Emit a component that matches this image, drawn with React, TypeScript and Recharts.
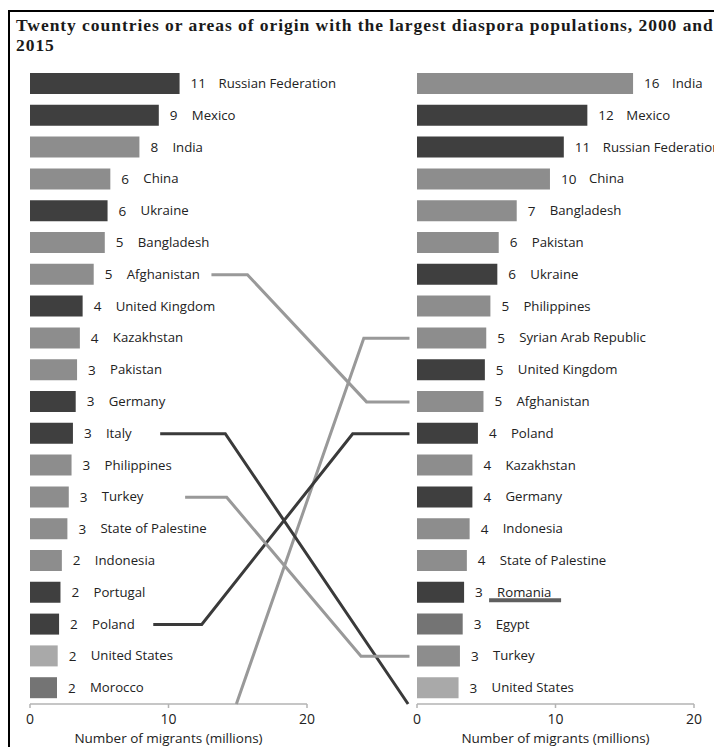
import React from 'react';
import { BarChart, Bar, XAxis, YAxis, Cell, LabelList, LineChart, Line } from 'recharts';

// 2000 ranking (left panel)
const names2000 = [
  'Russian Federation', 'Mexico', 'India', 'China', 'Ukraine', 'Bangladesh', 'Afghanistan',
  'United Kingdom', 'Kazakhstan', 'Pakistan', 'Germany', 'Italy', 'Philippines', 'Turkey',
  'State of Palestine', 'Indonesia', 'Portugal', 'Poland', 'United States', 'Morocco'
];
const values2000 = [10.8, 9.3, 7.9, 5.8, 5.6, 5.4, 4.6, 3.8, 3.6, 3.4, 3.3, 3.1, 3.0, 2.8, 2.7, 2.3, 2.2, 2.1, 2.0, 1.95];
const regions2000 = [
  'eur', 'lac', 'asia', 'asia', 'eur', 'asia', 'asia', 'eur', 'asia', 'asia',
  'eur', 'eur', 'asia', 'asia', 'asia', 'asia', 'eur', 'eur', 'nam', 'afr'
];

// 2015 ranking (right panel)
const names2015 = [
  'India', 'Mexico', 'Russian Federation', 'China', 'Bangladesh', 'Pakistan', 'Ukraine',
  'Philippines', 'Syrian Arab Republic', 'United Kingdom', 'Afghanistan', 'Poland', 'Kazakhstan',
  'Germany', 'Indonesia', 'State of Palestine', 'Romania', 'Egypt', 'Turkey', 'United States'
];
const values2015 = [15.6, 12.3, 10.6, 9.6, 7.2, 5.9, 5.8, 5.3, 5.0, 4.9, 4.8, 4.4, 4.0, 4.0, 3.8, 3.6, 3.4, 3.3, 3.1, 3.0];
const regions2015 = [
  'asia', 'lac', 'eur', 'asia', 'asia', 'asia', 'eur', 'asia', 'asia', 'eur',
  'asia', 'eur', 'asia', 'eur', 'asia', 'asia', 'eur', 'afr', 'asia', 'nam'
];

const xTicks = [0, 10, 20];

// connectors between the panels: x stops in left-axis units, rows taken from the rankings
const connectorNames = ['Afghanistan', 'Syrian Arab Republic', 'Italy', 'Poland', 'Turkey'];
const connectorStops = [
  [13.1, 15.7, 24.3, 27.4],
  [14.9, 14.9, 24.1, 27.4],
  [9.4, 14.1, 27.3, 27.3],
  [8.9, 12.4, 23.3, 27.4],
  [11.2, 14.2, 23.9, 27.4]
];
const connectorTones = ['light', 'light', 'dark', 'dark', 'light'];

const REGION_COLORS: Record<string, string> = {
  eur: '#3f3f3f',
  lac: '#3f3f3f',
  asia: '#8d8d8d',
  afr: '#747474',
  nam: '#a9a9a9'
};

const FONT = '"Open Sans", "Noto Sans", sans-serif';
const AXIS_COLOR = '#b3b3b3';
const ROWS = 20;

const data2000 = names2000.map((name, i) => ({ name, value: values2000[i], region: regions2000[i] }));
const data2015 = names2015.map((name, i) => ({ name, value: values2015[i], region: regions2015[i] }));

const rowOf = (list: string[], name: string) => {
  const i = list.indexOf(name);
  return i < 0 ? ROWS : i + 0.5;
};

const connectors = connectorNames.map((name, i) => {
  const from = rowOf(names2000, name);
  const to = rowOf(names2015, name);
  const s = connectorStops[i];
  return {
    name,
    tone: connectorTones[i],
    points: [
      { x: s[0], y: from },
      { x: s[1], y: from },
      { x: s[2], y: to },
      { x: s[3], y: to }
    ]
  };
});

const makeLabel = (list: { name: string }[]) => (props: any) => {
  const { x, y, width, height, value, index } = props;
  const end = Number(x) + Number(width);
  const cy = Number(y) + Number(height) / 2;
  const num = String(Math.round(Number(value)));
  const name = list[index]?.name ?? '';
  return (
    <g>
      <text x={end + 11} y={cy} dy="0.36em" fontSize={13.5} fill="#222" fontFamily={FONT}>
        {num}
      </text>
      <text x={end + 27 + 6 * num.length} y={cy} dy="0.34em" fontSize={13.2} fill="#222" fontFamily={FONT}>
        {name}
      </text>
      {name === 'Romania' && (
        <line x1={end + 25} x2={end + 97} y1={cy + 8} y2={cy + 8} stroke="#5f5f5f" strokeWidth={4} />
      )}
    </g>
  );
};

const Panel = ({ data, width, left }: { data: any[]; width: number; left: number }) => (
  <BarChart
    width={width}
    height={760}
    data={data}
    layout="vertical"
    margin={{ top: 60, right: width - left - 277, bottom: 0, left }}
  >
    <XAxis
      type="number"
      domain={[0, 20]}
      ticks={xTicks}
      tickSize={4}
      tickMargin={6}
      height={64}
      stroke={AXIS_COLOR}
      axisLine={{ stroke: AXIS_COLOR, strokeWidth: 1.5 }}
      tickLine={{ stroke: AXIS_COLOR, strokeWidth: 1.5 }}
      tick={{ fontSize: 14, fill: '#222', fontFamily: FONT }}
      label={{
        value: 'Number of migrants (millions)',
        position: 'insideTop',
        offset: 29,
        fontSize: 13.5,
        fill: '#222',
        fontFamily: FONT
      }}
    />
    <YAxis
      type="category"
      dataKey="name"
      width={0}
      tick={false}
      tickLine={false}
      axisLine={{ stroke: AXIS_COLOR, strokeWidth: 1.5 }}
    />
    <Bar dataKey="value" barSize={21} isAnimationActive={false}>
      {data.map((d, i) => (
        <Cell key={`cell-${i}`} fill={REGION_COLORS[d.region]} />
      ))}
      <LabelList dataKey="value" content={makeLabel(data)} />
    </Bar>
  </BarChart>
);

export default function App() {
  return (
    <div style={{ position: 'relative', width: 714, height: 739, overflow: 'hidden', background: '#fff' }}>
      <div
        style={{
          position: 'absolute',
          left: 0,
          top: 2,
          width: 714,
          height: 737,
          borderTop: '2px solid #000',
          borderLeft: '2px solid #000',
          boxSizing: 'border-box'
        }}
      />
      <div
        style={{
          position: 'absolute',
          left: 8,
          top: 7,
          fontFamily: '"Liberation Serif", "DejaVu Serif", serif',
          fontWeight: 'bold',
          fontSize: 17.5,
          letterSpacing: '0.95px',
          lineHeight: '20px',
          color: '#1a1a1a',
          whiteSpace: 'nowrap'
        }}
      >
        Twenty countries or areas of origin with the largest diaspora populations, 2000 and
        <br />
        2015
      </div>
      <div style={{ position: 'absolute', left: 0, top: 0 }}>
        <Panel data={data2000} width={380} left={22} />
      </div>
      <div style={{ position: 'absolute', left: 380, top: 0 }}>
        <Panel data={data2015} width={334} left={29} />
      </div>
      <div style={{ position: 'absolute', left: 0, top: 0, pointerEvents: 'none' }}>
        <LineChart width={714} height={760} margin={{ top: 60, right: 714 - 22 - 387.8, bottom: 64, left: 22 }}>
          <XAxis type="number" dataKey="x" domain={[0, 28]} hide />
          <YAxis type="number" dataKey="y" domain={[0, ROWS]} reversed hide />
          {connectors.map((c) => (
            <Line
              key={c.name}
              data={c.points}
              dataKey="y"
              type="linear"
              dot={false}
              stroke={c.tone === 'dark' ? '#3a3a3a' : '#999999'}
              strokeWidth={3}
              isAnimationActive={false}
            />
          ))}
        </LineChart>
      </div>
    </div>
  );
}
